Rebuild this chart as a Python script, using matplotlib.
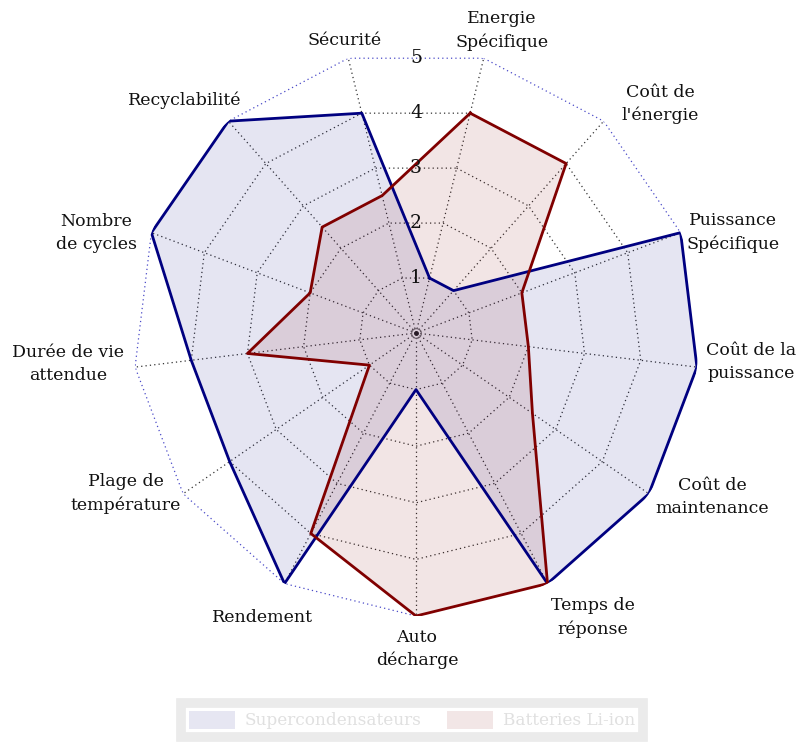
import numpy as np
import matplotlib.pyplot as plt
from matplotlib.patches import Patch

# axes of the radar, clockwise starting just right of the top
categories = ["Energie\nSpécifique", "Coût de\nl'énergie", "Puissance\nSpécifique",
              "Coût de la\npuissance", "Coût de\nmaintenance", "Temps de\nréponse",
              "Auto\ndécharge", "Rendement", "Plage de\ntempérature",
              "Durée de vie\nattendue", "Nombre\nde cycles", "Recyclabilité", "Sécurité"]
supercaps = [1, 1, 5, 5, 5, 5, 1, 5, 4, 4, 5, 5, 4]
batteries = [4, 4, 2, 2, 2.5, 5, 5, 4, 1, 3, 2, 2.5, 2.5]
scale_ticks = [1, 2, 3, 4, 5]
series_names = ["Supercondensateurs", "Batteries Li-ion"]

# label placement (pixel offsets from the outer vertex)
label_offsets = [(18, 28), (57, 17), (52, 0), (54, 5), (63, -3), (45, -34), (1, -33),
                 (-22, -34), (-57, 0), (-67, 3), (-55, 0), (-44, 21), (-4, 18)]

plt.rcParams['font.family'] = ['DejaVu Serif']

n = len(categories)
theta = np.pi / n + 2 * np.pi * np.arange(n) / n
theta_c = np.append(theta, theta[0])

fig = plt.figure(figsize=(7.97, 7.42), dpi=100)
ax = fig.add_axes([133 / 797, 126 / 742, 566 / 797, 566 / 742], projection='polar')
ax.set_theta_zero_location('N')
ax.set_theta_direction(-1)
ax.set_ylim(0, 5)
ax.set_xticks([])
ax.set_yticks([])
ax.grid(False)
ax.spines['polar'].set_visible(False)
ax.patch.set_visible(False)

# grid
for r in scale_ticks:
    col = '#4a4ac8' if r == 5 else '#333333'
    ax.plot(theta_c, [r] * (n + 1), ls=(0, (1, 2.5)), lw=0.9, color=col, zorder=1)
for t in theta:
    ax.plot([t, t], [0, 5], ls=(0, (1, 2.5)), lw=0.9, color='#333333', zorder=1)
ax.plot([0], [0], marker='o', ms=7, mfc='none', mec='#777777', mew=0.8, zorder=1)
ax.plot([0], [0], marker='o', ms=2.5, color='#222222', zorder=1)

# series
sc = supercaps + supercaps[:1]
bt = batteries + batteries[:1]
ax.fill(theta_c, sc, color='navy', alpha=0.1, lw=0, zorder=2)
ax.fill(theta_c, bt, color='maroon', alpha=0.1, lw=0, zorder=2)
ax.plot(theta_c, sc, color='navy', lw=2.0, zorder=3)
ax.plot(theta_c, bt, color='maroon', lw=2.0, zorder=3)

# scale numbers on the vertical
for r in scale_ticks:
    ax.text(0, r * np.cos(np.pi / n), str(r), ha='center', va='center',
            fontsize=13.5, color='#111111', zorder=4)

for t, lab, (dx, dy) in zip(theta, categories, label_offsets):
    ax.annotate(lab, xy=(t, 5), xytext=(dx, dy), textcoords='offset pixels',
                ha='center', va='center', multialignment='center',
                fontsize=12.5, linespacing=1.45, color='#111111')

handles = [Patch(facecolor='#e6e6f2', edgecolor='none'),
           Patch(facecolor='#f2e6e6', edgecolor='none')]
leg = fig.legend(handles, series_names, loc='center', ncol=2,
                 bbox_to_anchor=(412 / 797, 1 - 720 / 742), fontsize=12.2,
                 frameon=True, fancybox=False, handlelength=2.7, handleheight=1.3,
                 columnspacing=1.5, handletextpad=0.6, borderpad=0.45)
leg.get_frame().set_edgecolor('#e6e6e6')
leg.get_frame().set_linewidth(7)
for txt in leg.get_texts():
    txt.set_color('#e0e0e0')

fig.savefig('out.png', dpi=100)
